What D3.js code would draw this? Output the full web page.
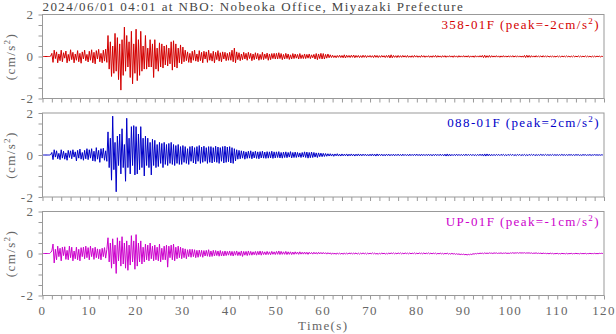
<!DOCTYPE html>
<html lang="en">
<head>
<meta charset="UTF-8">
<title>NBO waveforms</title>
<style>
    body { margin: 0; background: white; }
    text { font-family: 'Liberation Serif', 'Times New Roman', serif; letter-spacing: 1.4px; }
</style>
</head>
<body>
<div class="fig"></div>
<script src="https://d3js.org/d3.v7.min.js"></script>
<script>
// sampling step of the traces (s)
const dt = 0.25;

const title = "2024/06/01 04:01 at NBO: Nobeoka Office, Miyazaki Prefecture";
const channels = ["358-01F", "088-01F", "UP-01F"];
const peaks = ["-2", "2", "-1"];
const colors = ["#d40000", "#0000c8", "#cc00cc"];
const xTicks = [0, 10, 20, 30, 40, 50, 60, 70, 80, 90, 100, 110, 120];
const yTicks = [-2, 0, 2];

// acceleration (cm/s^2), one value every 0.25 s (one row = 10 s)
const ns358 = [
    0,0,0,0,0,0,0,0.02, 0.15,-0.28,0.3,-0.1,0.22,-0.3,0.12,-0.2, 0.3,-0.25,0.18,-0.08,0.26,-0.3,0.1,-0.22, 0.32,-0.15,0.2,-0.3,0.12,-0.18,0.28,-0.25, 0.15,-0.32,0.22,-0.12,0.3,-0.2,0.1,-0.26,
    0.25,-0.18,0.32,-0.3,0.2,-0.35,0.28,-0.12, 0.34,-0.25,0.15,-0.3,0.3,-0.22,0.35,-0.28, 1.0,-0.6,0.7,-0.95,0.5,-0.8,1.1,-0.7, 0.9,-1.1,0.6,-1.6,0.8,-0.9,1.4,-0.7, 1.0,-0.5,0.7,-1.0,1.2,-1.3,0.6,-0.8,
    1.3,-1.15,0.8,-0.9,1.2,-0.7,0.5,-0.6, 1.0,-0.6,0.4,-0.5,0.8,-0.5,0.6,-1.0, 0.8,-0.6,0.4,-0.7,0.65,-0.5,0.6,-0.55, 0.5,-0.4,0.55,-0.45,0.4,-0.35,0.7,-0.65, 0.75,-0.5,0.6,-0.55,0.4,-0.3,0.55,-0.35,
    0.45,-0.25,0.3,-0.2,0.22,-0.28,0.15,-0.3, 0.25,-0.18,0.3,-0.22,0.12,-0.25,0.28,-0.2, 0.2,-0.3,0.25,-0.12,0.22,-0.28,0.3,-0.18, 0.15,-0.22,0.25,-0.3,0.2,-0.15,0.28,-0.22, 0.18,-0.25,0.22,-0.12,0.2,-0.2,0.15,-0.18,
    0.2,-0.18,0.3,-0.25,0.4,-0.3,0.22,-0.15, 0.18,-0.2,0.12,-0.15,0.2,-0.12,0.15,-0.18, 0.2,-0.1,0.15,-0.2,0.12,-0.15,0.18,-0.12, 0.15,-0.18,0.1,-0.14,0.2,-0.15,0.12,-0.1, 0.16,-0.18,0.12,-0.15,0.14,-0.1,0.15,-0.12,
    0.15,-0.12,0.18,-0.1,0.14,-0.15,0.1,-0.12, 0.15,-0.1,0.12,-0.14,0.08,-0.12,0.14,-0.1, 0.12,-0.08,0.1,-0.12,0.14,-0.1,0.08,-0.1, 0.12,-0.1,0.1,-0.08,0.12,-0.1,0.08,-0.06, 0.1,-0.12,0.14,-0.15,0.12,-0.1,0.15,-0.12,
    0.14,-0.12,0.1,-0.08,0.12,-0.06,0.08,-0.05, 0.06,-0.05,0.04,-0.06,0.05,-0.04,0.06,-0.05, 0.05,-0.06,0.08,-0.07,0.06,-0.04,0.05,-0.05, 0.06,-0.04,0.07,-0.06,0.05,-0.04,0.05,-0.05, 0.04,-0.05,0.06,-0.04,0.05,-0.05,0.04,-0.03,
    0.05,-0.04,0.04,-0.05,0.06,-0.04,0.05,-0.05, 0.04,-0.04,0.05,-0.03,0.04,-0.05,0.05,-0.04, 0.06,-0.07,0.08,-0.06,0.05,-0.04,0.04,-0.05, 0.05,-0.04,0.04,-0.04,0.05,-0.03,0.04,-0.04, 0.05,-0.04,0.03,-0.04,0.04,-0.04,0.05,-0.03,
    0.04,-0.04,0.03,-0.04,0.05,-0.03,0.04,-0.04, 0.03,-0.03,0.04,-0.04,0.03,-0.04,0.04,-0.03, 0.05,-0.04,0.04,-0.03,0.03,-0.04,0.04,-0.03, 0.04,-0.04,0.03,-0.03,0.04,-0.03,0.03,-0.04, 0.04,-0.03,0.03,-0.04,0.04,-0.03,0.03,-0.03,
    0.04,-0.03,0.03,-0.03,0.04,-0.04,0.03,-0.03, 0.03,-0.04,0.04,-0.03,0.03,-0.03,0.04,-0.03, 0.05,-0.05,0.06,-0.05,0.04,-0.04,0.05,-0.04, 0.04,-0.03,0.03,-0.03,0.04,-0.03,0.03,-0.04, 0.03,-0.03,0.04,-0.03,0.03,-0.03,0.03,-0.02,
    0.03,-0.03,0.04,-0.03,0.03,-0.02,0.03,-0.03, 0.03,-0.03,0.02,-0.03,0.05,-0.05,0.06,-0.04, 0.05,-0.04,0.04,-0.03,0.03,-0.03,0.04,-0.03, 0.03,-0.02,0.03,-0.03,0.04,-0.03,0.03,-0.02, 0.03,-0.03,0.02,-0.02,0.03,-0.03,0.02,-0.03,
    0.03,-0.02,0.02,-0.03,0.03,-0.02,0.02,-0.02, 0.03,-0.02,0.02,-0.03,0.02,-0.02,0.03,-0.02, 0.02,-0.02,0.03,-0.02,0.02,-0.02,0.02,-0.02, 0.03,-0.02,0.02,-0.02,0.02,-0.03,0.02,-0.02, 0.02,-0.02,0.02,-0.01,0.02,-0.02,0.01,0
];

const ew088 = [
    0,0,0,0,0,0,0,0.02, 0.12,-0.22,0.25,-0.1,0.2,-0.18,0.08,-0.22, 0.25,-0.15,0.18,-0.2,0.1,-0.25,0.22,-0.12, 0.2,-0.18,0.25,-0.1,0.15,-0.28,0.22,-0.15, 0.28,-0.2,0.12,-0.25,0.22,-0.18,0.3,-0.22,
    0.25,-0.15,0.3,-0.28,0.18,-0.3,0.35,-0.2, 0.22,-0.35,0.3,-0.15,0.32,-0.25,0.2,-0.3, 1.1,-0.6,0.8,-1.2,1.85,-0.7,0.6,-1.75, 0.9,-0.5,1.0,-0.9,1.25,-0.6,0.5,-1.25, 1.75,-0.6,0.8,-0.9,1.35,-0.5,1.4,-0.95,
    1.35,-0.9,1.0,-0.7,1.35,-0.6,0.8,-1.0, 0.9,-0.5,0.8,-0.6,0.6,-0.95,0.75,-0.5, 0.7,-0.6,0.5,-0.55,0.6,-0.4,0.55,-0.6, 0.6,-0.45,0.5,-0.5,0.55,-0.4,0.6,-0.45, 0.5,-0.5,0.45,-0.4,0.5,-0.45,0.4,-0.45,
    0.45,-0.35,0.4,-0.4,0.3,-0.45,0.4,-0.3, 0.42,-0.38,0.35,-0.42,0.4,-0.3,0.45,-0.4, 0.38,-0.35,0.42,-0.3,0.35,-0.4,0.4,-0.35, 0.4,-0.38,0.35,-0.32,0.42,-0.35,0.38,-0.4, 0.35,-0.3,0.4,-0.38,0.42,-0.35,0.38,-0.32,
    0.4,-0.38,0.35,-0.4,0.3,-0.28,0.25,-0.2, 0.22,-0.18,0.2,-0.15,0.18,-0.2,0.15,-0.16, 0.18,-0.15,0.2,-0.18,0.15,-0.14,0.18,-0.16, 0.15,-0.18,0.16,-0.14,0.18,-0.15,0.14,-0.16, 0.16,-0.15,0.15,-0.14,0.18,-0.16,0.15,-0.14,
    0.15,-0.12,0.16,-0.14,0.12,-0.15,0.14,-0.12, 0.15,-0.13,0.12,-0.1,0.16,-0.14,0.12,-0.12, 0.14,-0.12,0.12,-0.1,0.1,-0.12,0.12,-0.1, 0.15,-0.12,0.14,-0.15,0.12,-0.13,0.14,-0.12, 0.12,-0.1,0.1,-0.12,0.1,-0.08,0.09,-0.08,
    0.08,-0.07,0.07,-0.06,0.06,-0.05,0.06,-0.05, 0.05,-0.06,0.05,-0.04,0.06,-0.05,0.04,-0.05, 0.05,-0.04,0.04,-0.04,0.05,-0.05,0.04,-0.04, 0.05,-0.04,0.04,-0.05,0.04,-0.04,0.05,-0.04, 0.04,-0.04,0.04,-0.03,0.04,-0.04,0.03,-0.04,
    0.04,-0.04,0.05,-0.04,0.04,-0.05,0.05,-0.04, 0.04,-0.03,0.04,-0.04,0.03,-0.04,0.04,-0.03, 0.04,-0.04,0.03,-0.03,0.04,-0.04,0.03,-0.03, 0.04,-0.03,0.03,-0.04,0.04,-0.03,0.03,-0.03, 0.03,-0.04,0.04,-0.03,0.03,-0.03,0.04,-0.03,
    0.04,-0.03,0.03,-0.04,0.04,-0.03,0.03,-0.03, 0.03,-0.03,0.04,-0.03,0.03,-0.04,0.03,-0.03, 0.04,-0.03,0.03,-0.03,0.04,-0.03,0.03,-0.04, 0.04,-0.05,0.05,-0.05,0.04,-0.04,0.03,-0.03, 0.03,-0.03,0.04,-0.03,0.03,-0.03,0.03,-0.03,
    0.03,-0.03,0.04,-0.03,0.03,-0.02,0.03,-0.03, 0.03,-0.03,0.02,-0.03,0.03,-0.03,0.04,-0.03, 0.04,-0.05,0.05,-0.05,0.05,-0.04,0.04,-0.04, 0.03,-0.03,0.03,-0.03,0.03,-0.02,0.03,-0.03, 0.03,-0.02,0.03,-0.03,0.02,-0.03,0.03,-0.02,
    0.03,-0.02,0.03,-0.03,0.02,-0.03,0.03,-0.02, 0.03,-0.03,0.02,-0.02,0.03,-0.03,0.02,-0.03, 0.03,-0.02,0.03,-0.02,0.03,-0.03,0.02,-0.02, 0.02,-0.02,0.03,-0.02,0.02,-0.02,0.03,-0.02, 0.02,-0.02,0.02,-0.02,0.03,-0.02,0.02,-0.02,
    0.02,-0.02,0.02,-0.02,0.03,-0.02,0.02,-0.02, 0.02,-0.02,0.02,-0.01,0.02,-0.02,0.02,-0.02, 0.02,-0.01,0.02,-0.02,0.01,-0.02,0.02,-0.01, 0.02,-0.02,0.01,-0.01,0.02,-0.02,0.01,-0.01, 0.02,-0.01,0.01,-0.01,0.01,-0.01,0.01,0
];

const ud = [
    0,0,0,0,0,0,0,0.05, 0.12,0.45,-0.45,0.2,-0.3,0.35,-0.15,0.25, -0.35,0.3,-0.1,0.32,-0.28,0.15,-0.3,0.35, -0.2,0.3,-0.35,0.12,-0.25,0.3,-0.3,0.2, -0.35,0.28,-0.15,0.3,-0.25,0.35,-0.2,0.28,
    -0.3,0.35,-0.15,0.25,-0.28,0.3,-0.2,0.22, -0.25,0.2,-0.3,0.25,-0.15,0.28,-0.22,0.2, 0.75,-0.4,0.5,-0.7,0.7,-0.5,0.4,-0.95, 0.75,-0.35,0.6,-0.6,0.8,-0.5,0.5,-0.7, 0.6,-0.8,0.4,-0.55,0.85,-0.4,0.6,-0.75,
    0.9,-0.6,0.5,-0.4,0.6,-0.5,0.3,-0.4, 0.45,-0.3,0.4,-0.35,0.5,-0.25,0.35,-0.35, 0.4,-0.3,0.3,-0.35,0.45,-0.4,0.25,-0.3, 0.35,-0.3,0.4,-0.65,0.35,-0.2,0.4,-0.3, 0.45,-0.35,0.3,-0.25,0.35,-0.2,0.3,-0.25,
    0.25,-0.2,0.22,-0.25,0.18,-0.15,0.2,-0.18, 0.2,-0.15,0.18,-0.2,0.15,-0.18,0.16,-0.14, 0.15,-0.18,0.14,-0.12,0.15,-0.13,0.18,-0.15, 0.12,-0.14,0.15,-0.12,0.14,-0.1,0.12,-0.13, 0.14,-0.12,0.1,-0.12,0.12,-0.1,0.1,-0.08,
    0.12,-0.1,0.1,-0.12,0.1,-0.08,0.12,-0.1, 0.08,-0.1,0.12,-0.14,0.1,-0.08,0.1,-0.1, 0.12,-0.08,0.1,-0.08,0.08,-0.06,0.1,-0.08, 0.1,-0.06,0.12,-0.08,0.1,-0.05,0.08,-0.06, 0.1,-0.05,0.08,-0.06,0.1,-0.04,0.08,-0.05,
    0.1,-0.04,0.12,-0.05,0.1,-0.04,0.08,-0.04, 0.1,-0.05,0.08,-0.04,0.08,-0.05,0.07,-0.04, 0.08,-0.03,0.07,-0.04,0.08,-0.03,0.06,-0.03, 0.07,-0.03,0.06,-0.04,0.06,-0.02,0.05,-0.03, 0.06,-0.02,0.05,-0.03,0.06,-0.02,0.05,-0.02,
    0.05,-0.02,0.04,-0.03,0.04,-0.02,0.03,-0.04, 0.03,-0.03,0.02,-0.04,0.03,-0.03,0.02,-0.03, 0.02,-0.04,0.03,-0.03,0.02,-0.03,0.03,-0.02, 0.03,-0.03,0.02,-0.02,0.03,-0.03,0.02,-0.03, 0.02,-0.02,0.03,-0.02,0.02,-0.03,0.02,-0.02,
    0.02,-0.02,0.03,-0.02,0.02,-0.03,0.01,-0.04, 0.02,-0.03,0.03,-0.02,0.02,-0.03,0.01,-0.03, 0.03,-0.02,0.03,-0.01,0.03,-0.02,0.02,-0.02, 0.03,-0.01,0.03,-0.02,0.02,-0.02,0.03,-0.01, 0.02,-0.02,0.03,-0.02,0.02,-0.01,0.03,-0.02,
    0.02,-0.02,0.03,-0.01,0.02,-0.02,0.03,-0.02, 0.02,-0.01,0.03,-0.02,0.02,-0.02,0.02,-0.01, 0.02,-0.03,0.01,-0.02,0.02,-0.02,0.01,-0.03, 0.01,-0.02,0.02,-0.03,0,-0.03,0.01,-0.03, 0,-0.04,-0.01,-0.04,-0.02,-0.05,-0.03,-0.05,
    -0.03,-0.06,-0.04,-0.07,-0.04,-0.06,-0.03,-0.05, -0.01,-0.03,0,-0.02,0.01,-0.01,0.02,0, 0.02,-0.01,0.03,0,0.02,0,0.03,0.01, 0.02,0,0.03,0.01,0.03,0,0.02,0.01, 0.03,0,0.02,0.01,0.03,0,0.02,0,
    0.03,0.01,0.04,0.01,0.03,0.02,0.04,0.01, 0.04,0.02,0.03,0.02,0.04,0.01,0.03,0.02, 0.03,0.01,0.03,0,0.02,0.01,0.03,0, 0.02,0,0.02,-0.01,0.02,0,0.01,-0.01, 0.01,-0.02,0.02,-0.01,0.01,-0.02,0,-0.01,
    0.01,-0.02,0,-0.02,0.01,-0.01,0,-0.02, 0.01,-0.02,0,-0.01,0.01,-0.02,0,-0.01, 0.01,-0.01,0,-0.02,0.01,-0.01,0,-0.01, 0.01,-0.02,0,-0.01,0.01,-0.01,0,-0.01, 0.01,-0.01,0,-0.01,0.01,0,0.01,0
];

const traces = [ns358, ew088, ud];

const width = 616, height = 334;
const left = 42.5, right = 604;
const top0 = 14.5, panelH = 84, step = 98.5;
const grey = "#666";

const svg = d3.select(".fig").append("svg")
    .attr("width", width)
    .attr("height", height);

const x = d3.scaleLinear().domain([0, 120]).range([left, right]);

svg.append("text")
    .attr("x", left)
    .attr("y", 11)
    .attr("font-size", 13)
    .attr("fill", "#444")
    .text(title);

traces.forEach((vals, i) => {
    const top = top0 + i * step;
    const y = d3.scaleLinear().domain([-2, 2]).range([top + panelH, top]);
    const g = svg.append("g");

    // waveform
    const line = d3.line()
        .x((d, k) => x(k * dt))
        .y(d => y(d));
    g.append("path")
        .datum(vals)
        .attr("d", line)
        .attr("fill", "none")
        .attr("stroke", colors[i])
        .attr("stroke-width", 1);

    // frame
    g.append("rect")
        .attr("x", left).attr("y", top)
        .attr("width", right - left).attr("height", panelH)
        .attr("fill", "none")
        .attr("stroke", "#999")
        .attr("stroke-width", 1);

    // y axis
    const yAxis = d3.axisLeft(y).tickValues(d3.range(-2, 2.01, 0.5))
        .tickSize(4).tickFormat("");
    const ya = g.append("g").attr("transform", `translate(${left},0)`).call(yAxis);
    ya.select(".domain").remove();
    ya.selectAll("line").attr("stroke", "#999");

    g.selectAll(".ylab")
        .data(yTicks)
        .enter().append("text")
        .attr("x", left - 8)
        .attr("y", d => y(d) + 4.5)
        .attr("text-anchor", "end")
        .attr("font-size", 13)
        .attr("fill", grey)
        .text(d => d);

    // bottom ticks
    const xAxis = d3.axisBottom(x).tickValues(d3.range(0, 120.1, 2))
        .tickSize(4).tickFormat("");
    const xa = g.append("g").attr("transform", `translate(0,${top + panelH})`).call(xAxis);
    xa.select(".domain").remove();
    xa.selectAll("line").attr("stroke", "#999");

    // unit label
    const ul = g.append("text")
        .attr("transform", `translate(15,${top + panelH / 2}) rotate(-90)`)
        .attr("text-anchor", "middle")
        .attr("font-size", 13)
        .attr("fill", grey);
    ul.append("tspan").text("(cm/s");
    ul.append("tspan").attr("font-size", 9).attr("dy", -5).text("2");
    ul.append("tspan").attr("dy", 5).text(")");

    // channel / peak label
    const pl = g.append("text")
        .attr("x", right - 4)
        .attr("y", top + 14)
        .attr("text-anchor", "end")
        .attr("font-size", 13)
        .attr("fill", colors[i]);
    pl.append("tspan").text(`${channels[i]} (peak=${peaks[i]}cm/s`);
    pl.append("tspan").attr("font-size", 9).attr("dy", -5).text("2");
    pl.append("tspan").attr("dy", 5).text(")");
});

// x tick labels under the last panel
const bottom = top0 + 2 * step + panelH;
svg.selectAll(".xlab")
    .data(xTicks)
    .enter().append("text")
    .attr("x", d => x(d))
    .attr("y", bottom + 19)
    .attr("text-anchor", "middle")
    .attr("font-size", 13)
    .attr("fill", grey)
    .text(d => d);

svg.append("text")
    .attr("x", (left + right) / 2)
    .attr("y", bottom + 34)
    .attr("text-anchor", "middle")
    .attr("font-size", 13)
    .attr("fill", grey)
    .text("Time(s)");
</script>
</body>
</html>
